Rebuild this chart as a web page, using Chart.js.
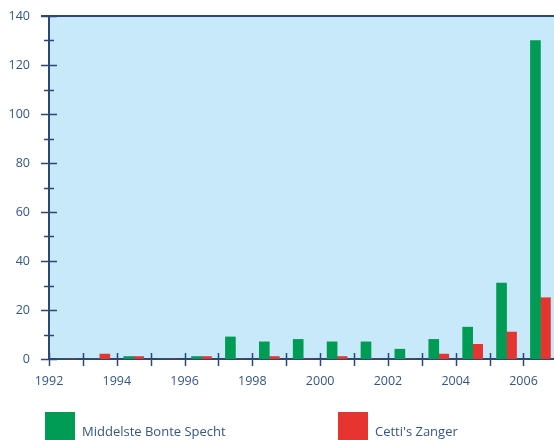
<!DOCTYPE html>
<html>
<head>
<meta charset="utf-8">
<script src="https://cdn.jsdelivr.net/npm/chart.js@4.4.0/dist/chart.umd.min.js"></script>
<style>
  html, body { margin: 0; padding: 0; background: #fff; }
  #wrap { position: relative; width: 554px; height: 440px; overflow: hidden; }
  #chart { position: absolute; left: 0; top: 0; }
  .key { position: absolute; top: 412px; width: 30px; height: 30px; }
  .key-label { position: absolute; top: 422px; font: 13px "Open Sans", sans-serif; color: #35558a; white-space: nowrap; }
</style>
</head>
<body>
<div id="wrap">
  <canvas id="chart" width="554" height="440"></canvas>
  <div class="key" id="key1" style="left:45px"></div>
  <div class="key-label" id="lab1" style="left:82px"></div>
  <div class="key" id="key2" style="left:338px"></div>
  <div class="key-label" id="lab2" style="left:375px"></div>
</div>
<script>
// years (bar for a year sits between that year's tick and the next one)
const years = [1992, 1993, 1994, 1995, 1996, 1997, 1998, 1999, 2000, 2001, 2002, 2003, 2004, 2005, 2006];
const specht = [0, 0, 1, 0, 1, 9, 7, 8, 7, 7, 4, 8, 13, 31, 130];
const zanger = [0, 2, 1, 0, 1, 0, 1, 0, 1, 0, 0, 2, 6, 11, 25];
const seriesNames = ['Middelste Bonte Specht', "Cetti's Zanger"];
const seriesColors = ['#009b55', '#e63430'];

const navy = '#2c4774';
const labelColor = '#34548a';

function toPoints(vals) {
    return vals.map((v, i) => ({ x: years[i] + 0.5, y: v }));
}

// light blue plot background + tick marks that cross the axes
const axisDeco = {
    id: 'axisDeco',
    beforeDraw(chart) {
        const a = chart.chartArea, ctx = chart.ctx;
        ctx.save();
        ctx.fillStyle = '#c7e9f9';
        ctx.fillRect(a.left, a.top, a.right - a.left, a.bottom - a.top);
        ctx.restore();
    },
    afterDatasetsDraw(chart) {
        const a = chart.chartArea, ctx = chart.ctx;
        const xs = chart.scales.x, ys = chart.scales.y;
        ctx.save();
        ctx.strokeStyle = navy;
        ctx.lineWidth = 1.5;
        ctx.beginPath();
        ys.ticks.forEach(t => {
            const y = Math.round(ys.getPixelForValue(t.value)) + 0.5;
            const len = t.value % 20 === 0 ? 8 : 5;
            ctx.moveTo(a.left - len, y);
            ctx.lineTo(a.left + len, y);
        });
        xs.ticks.forEach(t => {
            if (t.value % 1 !== 0) return;
            const x = Math.round(xs.getPixelForValue(t.value)) + 0.5;
            ctx.moveTo(x, a.bottom - 6);
            ctx.lineTo(x, a.bottom + 7);
        });
        ctx.stroke();
        // top frame line
        ctx.lineWidth = 2;
        ctx.beginPath();
        ctx.moveTo(a.left - 8, a.top);
        ctx.lineTo(a.right, a.top);
        ctx.stroke();
        ctx.restore();
    }
};

const ctx = document.getElementById('chart').getContext('2d');
const chart = new Chart(ctx, {
    type: 'bar',
    data: {
        datasets: [{
            label: seriesNames[0],
            data: toPoints(specht),
            backgroundColor: seriesColors[0],
            barThickness: 10
        }, {
            label: seriesNames[1],
            data: toPoints(zanger),
            backgroundColor: seriesColors[1],
            barThickness: 10
        }]
    },
    options: {
        responsive: false,
        animation: false,
        layout: { padding: { top: 16, right: 0, left: 0, bottom: 0 } },
        plugins: {
            legend: { display: false },
            tooltip: { enabled: false }
        },
        scales: {
            x: {
                type: 'linear',
                offset: false,
                min: 1992,
                max: 2006.9,
                afterFit: function(scale) {
                    scale.height = 81;
                    scale.paddingLeft = 0;
                    scale.paddingRight = 0;
                },
                grid: { display: false, drawTicks: false, offset: false },
                border: { display: true, color: navy, width: 2 },
                ticks: {
                    stepSize: 1,
                    includeBounds: false,
                    autoSkip: false,
                    maxRotation: 0,
                    padding: 15,
                    color: labelColor,
                    font: { family: 'Open Sans', size: 12.5 },
                    callback: function(value) {
                        return (value % 2 === 0) ? String(value) : '';
                    }
                }
            },
            y: {
                min: 0,
                max: 140,
                afterFit: function(scale) {
                    scale.width = 49;
                    scale.paddingTop = 0;
                    scale.paddingBottom = 0;
                },
                grid: { display: false, drawTicks: false },
                border: { display: true, color: navy, width: 2 },
                ticks: {
                    stepSize: 10,
                    padding: 19,
                    color: labelColor,
                    font: { family: 'Open Sans', size: 12.5 },
                    callback: function(value) {
                        return (value % 20 === 0) ? String(value) : '';
                    }
                }
            }
        }
    },
    plugins: [axisDeco]
});

// legend drawn as plain html under the chart
document.getElementById('key1').style.background = seriesColors[0];
document.getElementById('key2').style.background = seriesColors[1];
document.getElementById('lab1').textContent = seriesNames[0];
document.getElementById('lab2').textContent = seriesNames[1];
</script>
</body>
</html>
